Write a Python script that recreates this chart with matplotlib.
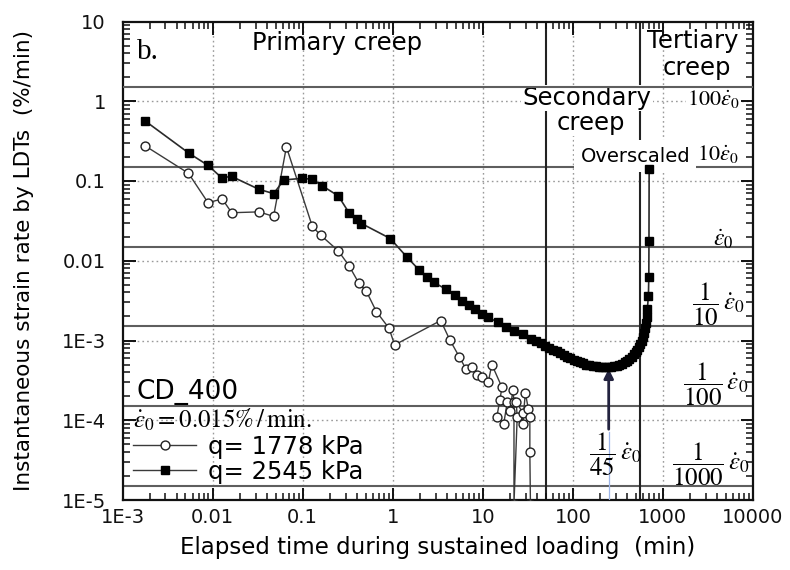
import matplotlib
matplotlib.use("Agg")
import matplotlib.pyplot as plt
from matplotlib.lines import Line2D
from matplotlib.ticker import LogLocator, NullFormatter

# ---------------- data ----------------
t_q1778 = [0.0018, 0.0054, 0.0089, 0.0128, 0.0163, 0.0327, 0.0476, 0.066, 0.128, 0.158,
           0.249, 0.327, 0.42, 0.51, 0.659, 0.91, 1.05, 3.41, 4.3, 5.46,
           6.5, 7.5, 8.7, 9.9, 11.5, 12.6, 16.3, 15.5, 14.3, 17.1,
           18.7, 20.0, 21.6, 22.2, 22.2, 24.1, 23.5, 27.7, 27.7, 29.7,
           32.0, 33.3, 33.3, 33.8]
r_q1778 = [0.274, 0.125, 0.0535, 0.0596, 0.040, 0.041, 0.036, 0.268, 0.027, 0.021,
           0.0133, 0.00866, 0.00526, 0.00414, 0.0023, 0.001425, 0.00088, 0.00178, 0.00102, 0.00063,
           0.00044, 0.00046, 0.000365, 0.00035, 0.0003, 0.0005, 2.6e-4, 1.8e-4, 1.1e-4, 9.1e-5,
           1.7e-4, 1.3e-4, 2.4e-4, 1.7e-4, 9.0e-6, 1.1e-4, 1.7e-4, 1.25e-4, 9.1e-5, 2.2e-4,
           1.4e-4, 1.1e-4, 4.0e-5, 9.0e-6]

t_q2545 = [0.0018, 0.0055, 0.0089, 0.0126, 0.0163, 0.0327, 0.0476, 0.062, 0.098, 0.128,
           0.166, 0.249, 0.327, 0.40, 0.45, 0.94, 1.45, 1.97, 2.40, 2.85,
           3.86, 4.9, 5.9, 7.0, 8.3, 9.9, 11.5, 14.6, 18.0, 22.2,
           27.7, 34, 39, 44, 49, 54, 60, 66, 72, 79, 86,
           94, 102, 111, 120, 130, 141, 153, 166, 180, 195,
           211, 228, 246, 265, 285, 306, 328, 351, 375, 400,
           425, 450, 475, 500, 520, 540, 560, 580, 600, 615,
           630, 645, 658, 671, 690, 697, 700, 703]
r_q2545 = [0.562, 0.222, 0.157, 0.110, 0.114, 0.0787, 0.0695, 0.103, 0.108, 0.105,
           0.0866, 0.065, 0.040, 0.0332, 0.0293, 0.019, 0.011, 0.00764, 0.00631, 0.00535,
           0.00444, 0.00373, 0.00316, 0.00282, 0.00249, 0.00216, 0.00195, 0.0017, 0.00148, 0.00133,
           0.00119, 0.00105, 9.8e-4, 9.2e-4, 8.6e-4, 8.1e-4, 7.7e-4, 7.3e-4, 7.0e-4, 6.6e-4, 6.3e-4,
           6.0e-4, 5.75e-4, 5.5e-4, 5.33e-4, 5.15e-4, 5.0e-4, 4.88e-4, 4.8e-4, 4.74e-4, 4.7e-4,
           4.67e-4, 4.65e-4, 4.65e-4, 4.68e-4, 4.75e-4, 4.85e-4, 4.95e-4, 5.1e-4, 5.3e-4, 5.5e-4,
           5.8e-4, 6.2e-4, 6.7e-4, 7.2e-4, 7.7e-4, 8.3e-4, 9.1e-4, 1.0e-3, 1.12e-3, 1.25e-3,
           1.42e-3, 1.65e-3, 1.95e-3, 2.48e-3, 3.6e-3, 6.3e-3, 1.78e-2, 0.141]

x_ticks = [1e-3, 1e-2, 1e-1, 1, 10, 100, 1000, 10000]
x_ticklabels = ["1E-3", "0.01", "0.1", "1", "10", "100", "1000", "10000"]
y_ticks = [1e-5, 1e-4, 1e-3, 1e-2, 1e-1, 1, 10]
y_ticklabels = ["1E-5", "1E-4", "1E-3", "0.01", "0.1", "1", "10"]

eps0 = 0.015                         # reference strain rate (%/min)
eps_multiples = [100, 10, 1, 0.1, 0.01, 0.001]
stage_bounds = [50, 560]             # primary/secondary, secondary/tertiary (min)
t_min_rate = 250                     # time of minimum strain rate (min)

# ---------------- figure ----------------
plt.rcParams["mathtext.fontset"] = "stix"
plt.rcParams["font.family"] = "DejaVu Sans"

W, H = 790, 570
fig = plt.figure(figsize=(W / 100, H / 100), dpi=100)
L, R, T, B = 122.5, 753, 21.5, 500
ax = fig.add_axes([L / W, 1 - B / H, (R - L) / W, (B - T) / H])

def ax_xy(px, py):
    return (px - L) / (R - L), 1 - (py - T) / (B - T)

ax.set_xscale("log")
ax.set_yscale("log")
ax.set_xlim(1e-3, 1e4)
ax.set_ylim(1e-5, 10)

# dotted grid at decades
for xv in x_ticks[1:-1]:
    ax.axvline(xv, color="#9a9a9a", lw=1.0, ls=(0, (1.2, 2.2)), zorder=1)
for yv in y_ticks[1:-1]:
    ax.axhline(yv, color="#9a9a9a", lw=1.0, ls=(0, (1.2, 2.2)), zorder=1)

# reference strain-rate levels (the top one stays above the label boxes)
for m in eps_multiples:
    ax.axhline(m * eps0, color="#5e5e5e", lw=1.5, zorder=6.5 if m == 100 else 1.5)

# creep stage boundaries
for sb in stage_bounds:
    ax.axvline(sb, color="#222222", lw=1.5, zorder=1.5)

# data
l1, = ax.plot(t_q1778, r_q1778, color="#3a3a3a", lw=1.0, marker="o", ms=6.4,
              mfc="white", mec="#222222", mew=1.0, zorder=4)
l2, = ax.plot(t_q2545, r_q2545, color="#2a2a2a", lw=1.2, marker="s", ms=6.0,
              mfc="black", mec="black", zorder=7)

# ticks
ax.set_xticks(x_ticks)
ax.set_xticklabels(x_ticklabels)
ax.set_yticks(y_ticks)
ax.set_yticklabels(y_ticklabels)
ax.xaxis.set_minor_locator(LogLocator(base=10, subs=range(2, 10), numticks=20))
ax.yaxis.set_minor_locator(LogLocator(base=10, subs=range(2, 10), numticks=20))
ax.xaxis.set_minor_formatter(NullFormatter())
ax.yaxis.set_minor_formatter(NullFormatter())
ax.tick_params(which="both", direction="in", top=True, right=True, colors="#111111")
ax.tick_params(which="major", length=9, width=1.4, labelsize=14)
ax.tick_params(axis="x", which="major", pad=6)
ax.tick_params(axis="y", which="major", pad=12)
ax.tick_params(which="minor", length=5, width=1.1)
for s in ax.spines.values():
    s.set_linewidth(1.6)
    s.set_color("#111111")

ax.set_xlabel("Elapsed time during sustained loading  (min)", fontsize=16.5, labelpad=6)
ax.set_ylabel("Instantaneous strain rate by LDTs  (%/min)", fontsize=15.5, labelpad=20)

# annotations
def txt(px, py, s, **kw):
    x, y = ax_xy(px, py)
    return ax.text(x, y, s, transform=ax.transAxes, **kw)

white = dict(facecolor="white", edgecolor="none", pad=1.0)
txt(137, 52, "b.", family="Liberation Serif", fontsize=21, ha="left", va="center")
txt(337, 43, "Primary creep", fontsize=17.5, ha="center", va="center")
txt(693, 41, "Tertiary", fontsize=17.5, ha="center", va="center")
txt(697, 68, "creep", fontsize=17.5, ha="center", va="center")
txt(587, 98, "Secondary", fontsize=17.5, ha="center", va="center", bbox=white, zorder=6)
txt(591, 123, "creep", fontsize=17.5, ha="center", va="center", bbox=white, zorder=6)
txt(740, 99, r"$100\dot{\varepsilon}_0$", fontsize=16, ha="right", va="center",
    bbox=dict(facecolor="white", edgecolor="none", pad=0.5), zorder=6)
txt(690, 156, "Overscaled", fontsize=14, ha="right", va="center",
    bbox=dict(facecolor="white", edgecolor="none", pad=4.5), zorder=6)
txt(739, 154, r"$10\dot{\varepsilon}_0$", fontsize=16, ha="right", va="center", zorder=6)
txt(734, 239, r"$\dot{\varepsilon}_0$", fontsize=17, ha="right", va="center")
txt(745, 304, r"$\dfrac{1}{10}\,\dot{\varepsilon}_0$", fontsize=18, ha="right", va="center")
txt(748, 384, r"$\dfrac{1}{100}\,\dot{\varepsilon}_0$", fontsize=18, ha="right", va="center")
txt(750, 464, r"$\dfrac{1}{1000}\,\dot{\varepsilon}_0$", fontsize=18, ha="right", va="center")
txt(642, 454, r"$\dfrac{1}{45}\,\dot{\varepsilon}_0$", fontsize=18, ha="right", va="center", zorder=6)
txt(136, 392, "CD_400", fontsize=19, ha="left", va="center")

# arrow to the minimum strain rate
ya0 = 10 ** (1 - (432 - T) / (B - T) * 6)
ya1 = 10 ** (1 - (366 - T) / (B - T) * 6)
ax.plot([t_min_rate, t_min_rate], [1e-5, ya0], color="#9db5e8", lw=0.9, zorder=3)
ax.annotate("", xy=(t_min_rate, ya1), xytext=(t_min_rate, ya0),
            arrowprops=dict(arrowstyle="-|>", color="#23233f", lw=2.0,
                            mutation_scale=14), zorder=6)

# legend
h1 = Line2D([], [], color="#3a3a3a", lw=1.0, marker="o", ms=6.4, mfc="white",
            mec="#222222", mew=1.0)
h2 = Line2D([], [], color="#3a3a3a", lw=1.0, marker="s", ms=5.2, mfc="black", mec="black")
lx, ly = ax_xy(133, 407)
leg = ax.legend([h1, h2], ["q= 1778 kPa", "q= 2545 kPa"], loc="upper left",
                bbox_to_anchor=(lx, ly), frameon=False, fontsize=17.5,
                title=r"$\dot{\varepsilon}_0 = 0.015\%\,/\,\mathrm{min}.$",
                title_fontsize=18, alignment="left", handlelength=2.6,
                handletextpad=0.5, labelspacing=0.05, borderpad=0.0,
                borderaxespad=0.0)

fig.savefig("out.png", dpi=100)
